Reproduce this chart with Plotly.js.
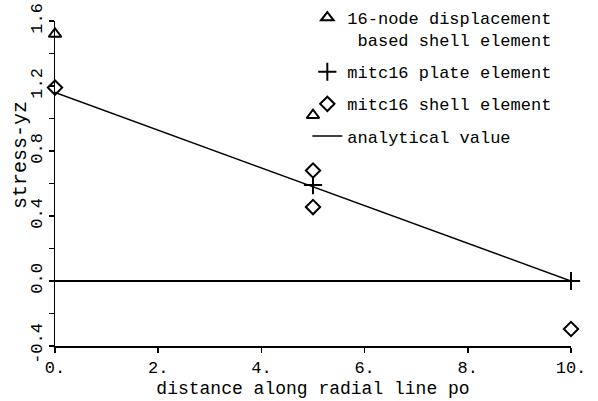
<!DOCTYPE html>
<html>
<head>
<meta charset="utf-8">
<script src="https://cdn.plot.ly/plotly-3.0.1.min.js"></script>
<style>html,body{margin:0;padding:0;background:#fff;}#chart{width:598px;height:401px;}</style>
</head>
<body>
<div id="chart"></div>
<script>
// Data
var dispX = [0, 5];
var dispY = [1.52, 1.02];
var plateX = [5, 10];
var plateY = [0.59, 0.0];
var shellX = [0, 5, 5, 10];
var shellY = [1.19, 0.68, 0.455, -0.295];
var analyticX = [0, 10];
var analyticY = [1.16, 0.0];
var xTickVals = [0, 2, 4, 6, 8, 10];
var xTickText = ['0.', '2.', '4.', '6.', '8.', '10.'];
var yTickVals = [-0.4, 0.0, 0.4, 0.8, 1.2, 1.6];
var yTickText = ['-0.4', '0.0', '0.4', '0.8', '1.2', '1.6'];
var yMinorTicks = [-0.2, 0.2, 0.6, 1.0, 1.4];
var names = ['16-node displacement<br> based shell element', 'mitc16 plate element', 'mitc16 shell element', 'analytical value'];

var FONT = 'Liberation Mono, Courier New, monospace';
var traces = [
  {x: dispX, y: dispY, mode: 'markers', name: names[0], legendgroup: 'a', cliponaxis: false,
   marker: {symbol: 'triangle-up-open', size: 11, color: '#000', line: {width: 2, color: '#000'}}},
  {x: plateX, y: plateY, mode: 'markers', name: names[1], legendgroup: 'b', cliponaxis: false,
   marker: {symbol: 'cross-thin-open', size: 13, color: '#000', line: {width: 2, color: '#000'}}},
  {x: shellX, y: shellY, mode: 'markers', name: names[2], legendgroup: 'c', cliponaxis: false,
   marker: {symbol: 'diamond-open', size: 11, color: '#000', line: {width: 2, color: '#000'}}},
  {x: analyticX, y: analyticY, mode: 'lines', name: names[3], legendgroup: 'd', cliponaxis: false,
   line: {color: '#000', width: 1.5}}
];

var layout = {
  width: 598, height: 401,
  margin: {l: 55, r: 27, t: 0, b: 55},
  paper_bgcolor: '#fff', plot_bgcolor: '#fff',
  font: {family: FONT, size: 16, color: '#000'},
  showlegend: true,
  legend: {x: 0.489, y: 1.0, xanchor: 'left', yanchor: 'top', valign: 'top',
           bgcolor: 'rgba(0,0,0,0)',
           font: {family: FONT, size: 17, color: '#000'}, tracegroupgap: 7, traceorder: 'grouped',
           itemwidth: 30},
  xaxis: {range: [0, 10], showgrid: false, zeroline: false, showline: true, linecolor: '#000', linewidth: 1.5,
          ticks: 'outside', ticklen: 5, tickwidth: 1.5, tickcolor: '#000',
          tickvals: xTickVals, ticktext: xTickText, tickfont: {family: FONT, size: 17},
          title: {text: 'distance along radial line po', font: {family: FONT, size: 18}, standoff: 4}},
  yaxis: {range: [-0.4, 1.6], domain: [0, 0.9393], showgrid: false, zeroline: true, zerolinecolor: '#000', zerolinewidth: 1.5,
          showline: true, linecolor: '#000', linewidth: 1.5,
          ticks: 'outside', ticklen: 5, tickwidth: 1.5, tickcolor: '#000',
          tickvals: yTickVals, ticktext: yTickText, tickangle: -90, tickfont: {family: FONT, size: 17},
          minor: {tickvals: yMinorTicks, ticks: 'outside', ticklen: 5, tickwidth: 1.5, tickcolor: '#000', showgrid: false}},
  annotations: [
    {text: 'stress-yz', xref: 'paper', yref: 'paper', x: -0.068, y: 0.552, textangle: -90,
     showarrow: false, xanchor: 'center', yanchor: 'middle', font: {family: FONT, size: 20, color: '#000'}}
  ]
};

Plotly.newPlot('chart', traces, layout, {displayModeBar: false, staticPlot: true});
</script>
</body>
</html>
